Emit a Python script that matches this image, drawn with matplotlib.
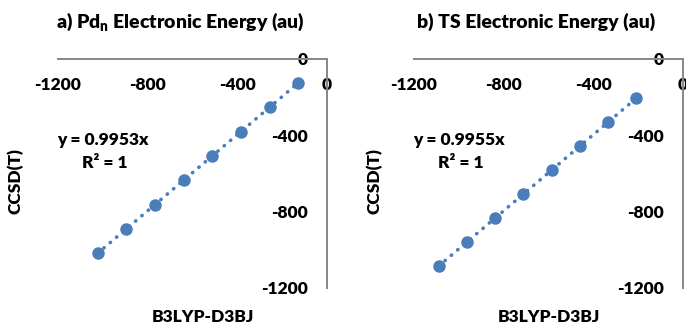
import numpy as np
import matplotlib
matplotlib.use("Agg")
import matplotlib.pyplot as plt

plt.rcParams['font.family'] = ['Lato', 'DejaVu Sans']
plt.rcParams['font.weight'] = 'heavy'
plt.rcParams['axes.unicode_minus'] = False
plt.rcParams['mathtext.fontset'] = 'custom'
plt.rcParams['mathtext.bf'] = 'Lato:heavy'
plt.rcParams['mathtext.rm'] = 'Lato:heavy'

# Pd_n electronic energies (au), n = 1..8
pd_b3lyp = [-127.9, -255.9, -383.8, -511.8, -639.8, -767.7, -895.7, -1023.6]
pd_ccsdt = [-127.3, -254.7, -382.0, -509.4, -636.8, -764.1, -891.5, -1018.8]
pd_eq = "y = 0.9953x"

# TS electronic energies (au)
ts_b3lyp = [-208.0, -334.0, -460.0, -586.0, -712.0, -838.0, -964.0, -1090.0]
ts_ccsdt = [-207.1, -332.5, -457.9, -583.4, -708.8, -834.2, -959.7, -1085.1]
ts_eq = "y = 0.9955x"

ticks = [-1200, -800, -400, 0]
tick_labels = ['-1200', '-800', '-400', '0']

W, H = 686, 326
fig = plt.figure(figsize=(W / 100, H / 100), dpi=100)

BLUE = '#4a7ebb'
GREY = '#868686'
WT = 'heavy'


def panel(left_px, x, y, eq, title, title_cx, ylab_cx, xlab_cx):
    ax = fig.add_axes([left_px / W, 1 - 288 / H, 269 / W, 229.5 / H])
    ax.set_xlim(-1200, 0)
    ax.set_ylim(-1200, 0)
    for s in ['top', 'right']:
        ax.spines[s].set_visible(False)
    ax.spines['bottom'].set_position(('data', 0))
    ax.spines['left'].set_position(('data', 0))
    for s in ['bottom', 'left']:
        ax.spines[s].set_color(GREY)
        ax.spines[s].set_linewidth(1.4)
    ax.set_xticks(ticks)
    ax.set_xticklabels(tick_labels, fontsize=12.5, fontweight=WT)
    ax.set_yticks(ticks)
    ax.set_yticklabels(tick_labels, fontsize=12.5, fontweight=WT)
    ax.tick_params(axis='x', length=0, pad=13.0)
    ax.tick_params(axis='y', length=0, pad=13.7)
    ax.patch.set_alpha(0)

    # linear trendline through the origin
    xa = np.array(x)
    ya = np.array(y)
    slope = np.sum(xa * ya) / np.sum(xa * xa)
    xs = np.array([xa.min(), xa.max()])
    ax.plot(xs, slope * xs, color=BLUE, lw=2.6, linestyle=(0, (0.1, 2.2)),
            dash_capstyle='round', zorder=2)
    ax.plot(x, y, 'o', color=BLUE, markersize=9, markeredgewidth=0, zorder=3)

    fig.text((left_px + 45) / W, 1 - 140 / H, eq, ha='center', va='center',
             fontsize=12.5, fontweight=WT)
    fig.text((left_px + 47) / W, 1 - 163 / H, 'R\u00b2 = 1', ha='center',
             va='center', fontsize=12.5, fontweight=WT)
    fig.text(title_cx / W, 1 - 22 / H, title, ha='center', va='center',
             fontsize=14, fontweight=WT)
    fig.text(ylab_cx / W, 1 - 181 / H, 'CCSD(T)', ha='center', va='center',
             rotation=90, fontsize=12.5, fontweight=WT)
    fig.text(xlab_cx / W, 1 - 317 / H, 'B3LYP-D3BJ', ha='center', va='center',
             fontsize=12.5, fontweight=WT)
    return ax


panel(58, pd_b3lyp, pd_ccsdt, pd_eq, 'a) Pd$_\\mathbf{n}$ Electronic Energy (au)',
      180, 15.5, 203)
panel(414, ts_b3lyp, ts_ccsdt, ts_eq, 'b) TS Electronic Energy (au)',
      536, 374, 549)

fig.savefig('out.png', dpi=100)
